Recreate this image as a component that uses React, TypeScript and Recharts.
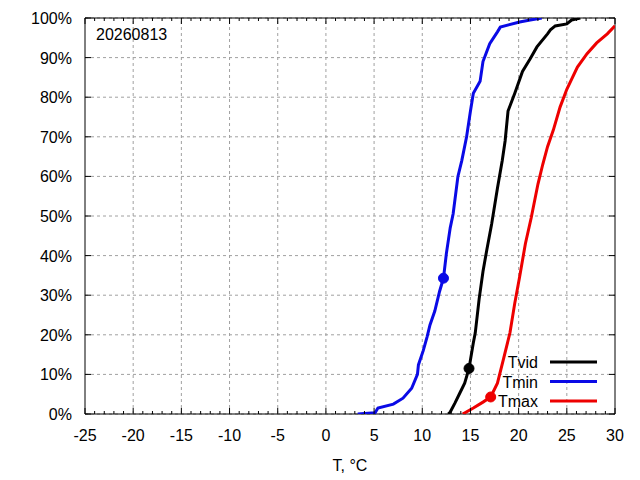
import React from 'react'
import {
  ComposedChart, Line, XAxis, YAxis, CartesianGrid, ReferenceLine,
  ReferenceArea, ReferenceDot, Legend,
} from 'recharts'

const TVID_T = [12.7, 12.9, 13.4, 13.9, 14.4, 14.85, 15.3, 15.5, 15.9, 16.3, 16.7, 17.2, 17.8, 18.3, 18.6, 18.9, 19.6, 20.4, 21.2, 21.9, 23.0, 23.3, 23.8, 25.0, 25.5, 26.4]
const TVID_P = [0, 0.5, 2.8, 5.3, 7.8, 11.5, 18, 20.5, 29, 36, 41.5, 48, 57, 64, 69, 76.5, 81, 86.5, 89.7, 92.7, 96, 97, 98, 98.5, 99.5, 100]

const TMIN_T = [3.3, 5.1, 5.4, 7.0, 8.0, 8.9, 9.5, 9.6, 10.1, 10.5, 10.8, 11.3, 11.8, 12.2, 12.5, 12.9, 13.2, 13.7, 14.1, 14.6, 15.0, 15.3, 16.0, 16.3, 17.0, 17.8, 18.1, 20.1, 21.2, 22.4]
const TMIN_P = [0, 0.3, 1.5, 2.5, 4, 6.5, 10, 12.4, 16, 19.5, 22.5, 26, 31, 34.3, 40.5, 47, 50.5, 60, 64, 70, 76.5, 81, 84, 89, 93.5, 96.5, 97.7, 99, 99.5, 100]

const TMAX_T = [14.2, 15.3, 16.3, 17.1, 17.8, 18.4, 19.1, 19.6, 20.1, 20.7, 21.3, 22.0, 22.5, 23.0, 23.6, 24.3, 25.0, 26.1, 27.1, 28.1, 29.2, 30.0]
const TMAX_P = [0, 1.5, 3, 4.3, 7.8, 13.6, 20.5, 28, 34.6, 43, 49.5, 58, 63, 67.5, 71.7, 77.5, 82, 87.6, 91, 93.7, 96, 98]

// highlighted points (one per series)
const MARK_T = [14.85, 12.2, 17.1]
const MARK_P = [11.5, 34.3, 4.3]

const SERIES = ['Tvid', 'Tmin', 'Tmax']
const COLORS = ['#000000', '#0a0ae6', '#ee0000']

const X_MAJOR = [-25, -20, -15, -10, -5, 0, 5, 10, 15, 20, 25, 30]
const X_TICKS = Array.from({ length: 56 }, (_, i) => i - 25)
const Y_TICKS = [0, 10, 20, 30, 40, 50, 60, 70, 80, 90, 100]

const PLOT_W = 530
const PLOT_H = 396
const FONT = 16
const GRID = '#a0a0a0'

const toRows = (ts: number[], ps: number[]) => ts.map((t, i) => ({ t, p: ps[i] }))
const rows = [toRows(TVID_T, TVID_P), toRows(TMIN_T, TMIN_P), toRows(TMAX_T, TMAX_P)]

const XTick = ({ x, y, payload }: any) => {
  const v = payload.value
  const major = v % 5 === 0
  const len = major ? 6 : 3
  return (
    <g>
      <line x1={x} x2={x} y1={y} y2={y - len} stroke="#000" />
      <line x1={x} x2={x} y1={y - PLOT_H} y2={y - PLOT_H + len} stroke="#000" />
      {major && (
        <text x={x} y={y + 27} textAnchor="middle" fontSize={FONT} fill="#000">{v}</text>
      )}
    </g>
  )
}

const YTick = ({ x, y, payload }: any) => (
  <g>
    <line x1={x} x2={x + 6} y1={y} y2={y} stroke="#000" />
    <line x1={x + PLOT_W} x2={x + PLOT_W - 6} y1={y} y2={y} stroke="#000" />
    <text x={x - 13} y={y + 6} textAnchor="end" fontSize={FONT} fill="#000">{payload.value}%</text>
  </g>
)

const LegendBox = () => (
  <svg width={140} height={60} style={{ display: 'block' }}>
    {SERIES.map((name, i) => {
      const y = 12 + i * 19.5
      return (
        <g key={name}>
          <text x={78} y={y + 6} textAnchor="end" fontSize={FONT} fill="#000"
            fontFamily='"Liberation Sans", Arial, sans-serif'>{name}</text>
          <line x1={90} x2={137} y1={y} y2={y} stroke={COLORS[i]} strokeWidth={3} />
        </g>
      )
    })}
  </svg>
)

export default function App() {
  return (
    <div style={{ position: 'absolute', left: 0, top: 0, width: 640, height: 480, background: '#fff', fontFamily: '"Liberation Sans", Arial, sans-serif' }}>
      <ComposedChart width={640} height={480} margin={{ top: 18, right: 25, left: 0, bottom: 0 }}>
        <CartesianGrid vertical={false} stroke={GRID} strokeDasharray="3 3" />
        {X_MAJOR.slice(1, -1).map(v => (
          <ReferenceLine key={v} x={v} stroke={GRID} strokeDasharray="3 3" />
        ))}
        <XAxis
          type="number" dataKey="t" domain={[-25, 30]} ticks={X_TICKS} interval={0}
          allowDataOverflow height={66} tickSize={0} tickMargin={0} tickLine={false}
          axisLine={false} tick={XTick}
          label={{ value: 'T, °C', position: 'insideBottom', offset: 9, fill: '#000', fontSize: FONT }}
        />
        <YAxis
          type="number" dataKey="p" domain={[0, 100]} ticks={Y_TICKS} interval={0}
          allowDataOverflow width={85} tickSize={0} tickMargin={0} tickLine={false}
          axisLine={false} tick={YTick}
        />
        {SERIES.map((name, i) => (
          <Line key={name} data={rows[i]} dataKey="p" name={name} type="linear"
            stroke={COLORS[i]} strokeWidth={3} dot={false} isAnimationActive={false} />
        ))}
        {SERIES.map((name, i) => (
          <ReferenceDot key={name} x={MARK_T[i]} y={MARK_P[i]} r={5} fill={COLORS[i]} stroke={COLORS[i]} />
        ))}
        <ReferenceArea x1={-25} x2={30} y1={0} y2={100} fill="none" fillOpacity={0} stroke="#000" strokeWidth={1}
          label={{ value: '20260813', position: 'insideTopLeft', offset: 11, fill: '#000', fontSize: FONT }} />
        <Legend layout="horizontal" verticalAlign="middle"
          wrapperStyle={{ left: 460, top: 350, width: 140, height: 60 }}
          content={() => <LegendBox />} />
      </ComposedChart>
    </div>
  )
}
